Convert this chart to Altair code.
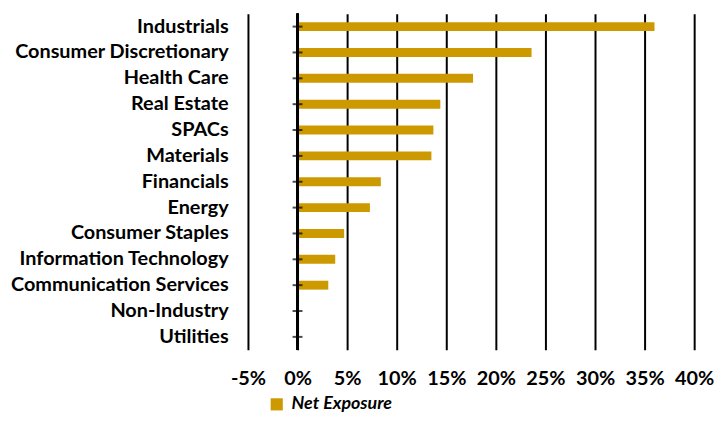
import altair as alt
import pandas as pd

categories = [
    "Industrials", "Consumer Discretionary", "Health Care", "Real Estate",
    "SPACs", "Materials", "Financials", "Energy", "Consumer Staples",
    "Information Technology", "Communication Services", "Non-Industry", "Utilities",
]
net_exposure = [36.0, 23.6, 17.7, 14.4, 13.7, 13.5, 8.4, 7.3, 4.7, 3.8, 3.1, 0.0, 0.0]
series_name = "Net Exposure"
x_ticks = [-5, 0, 5, 10, 15, 20, 25, 30, 35, 40]

df = pd.DataFrame({"Sector": categories, "Value": net_exposure, "Series": series_name})

FONT = "Lato"
BAR = "#CC9900"

y_enc = alt.Y(
    "Sector:N", sort=categories, title=None,
    scale=alt.Scale(paddingInner=0, paddingOuter=0),
    axis=alt.Axis(domain=False, ticks=False, labelPadding=20, labelFont=FONT,
                  labelFontSize=20, labelFontWeight="bold", labelColor="black",
                  labelLimit=400, grid=False),
)
x_enc = alt.X(
    "Value:Q", title=None,
    scale=alt.Scale(domain=[-5, 40], nice=False),
    axis=alt.Axis(values=x_ticks, labelExpr="datum.value + '%'", domain=False, ticks=False,
                  grid=True, gridColor="black", gridWidth=2, labelPadding=19,
                  labelFont=FONT, labelFontSize=20, labelFontWeight="bold",
                  labelColor="black", labelFlush=False),
)

bars = alt.Chart(df).mark_bar(size=9).encode(
    x=x_enc,
    y=y_enc,
    color=alt.Color(
        "Series:N", scale=alt.Scale(range=[BAR]), title=None,
        legend=alt.Legend(orient="none", legendX=20, legendY=385, symbolType="square",
                          symbolSize=150, symbolStrokeWidth=0, labelFont=FONT,
                          labelFontSize=18, labelFontWeight="bold", labelFontStyle="italic",
                          labelColor="black", labelOffset=6),
    ),
)

zero_line = alt.Chart(df).mark_rule(color="black", strokeWidth=2).encode(
    x=alt.datum(0)
)

ticks = alt.Chart(df).mark_tick(orient="horizontal", size=10, thickness=2, color="black").encode(
    x=alt.datum(0),
    y=alt.Y("Sector:N", sort=categories),
)

chart = alt.layer(bars, zero_line, ticks).properties(
    width=450, height=339,
    autosize=alt.AutoSizeParams(type="none"),
    padding={"left": 242, "top": 4, "right": 20, "bottom": 62},
).configure_view(stroke=None)

chart.save("out.html", embed_options={"renderer": "svg", "actions": False})
